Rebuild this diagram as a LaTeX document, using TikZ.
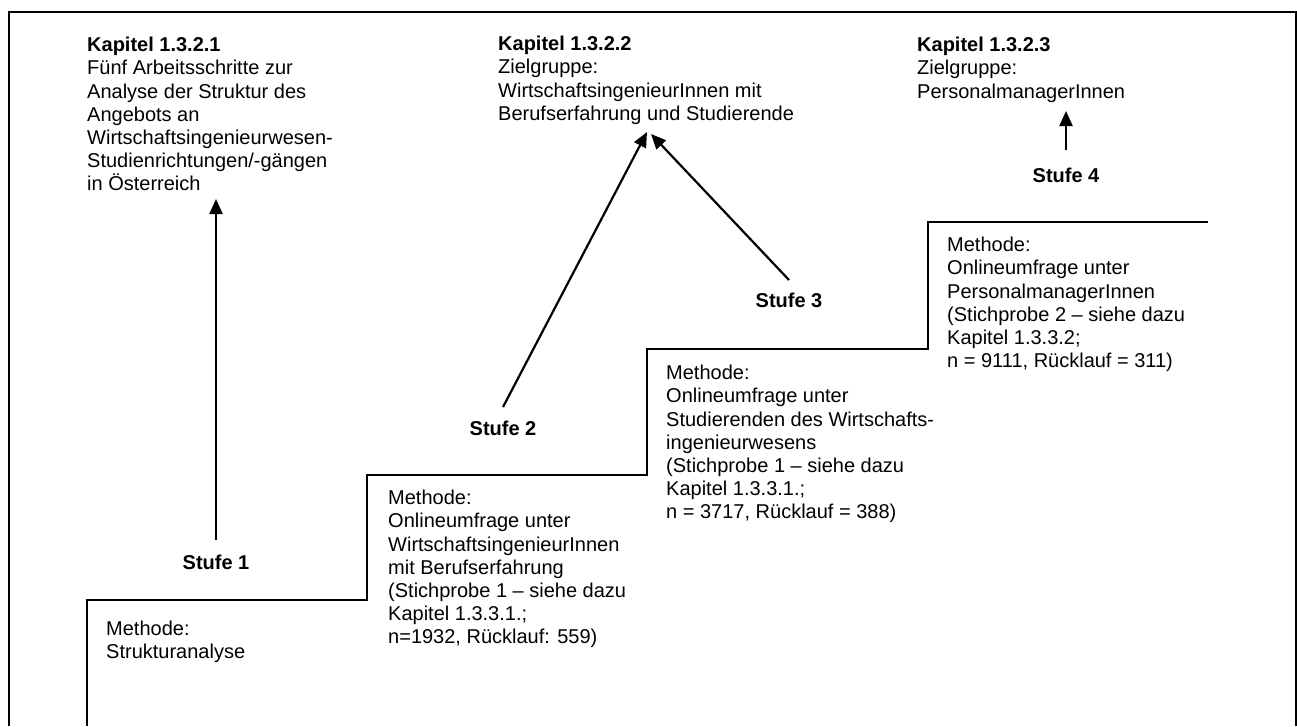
\documentclass[tikz,border=0pt]{standalone}
\usepackage{fontspec}
\setmainfont{Liberation Sans}
\usetikzlibrary{arrows.meta}
\tikzset{
  txt/.style={font=\fontsize{20}{23.2}\selectfont, align=left, inner sep=0pt, anchor=north west},
  stufe/.style={font=\fontsize{20}{23.2}\selectfont\bfseries, inner sep=0pt, anchor=center},
  frameline/.style={line width=2pt, black},
  stairline/.style={line width=2.5pt, black, line join=miter},
  arr/.style={line width=2.2pt, -{Triangle[length=15pt,width=13pt]}}
}
\begin{document}
\begin{tikzpicture}[x=1pt,y=-1pt]
\useasboundingbox (0,0) rectangle (1297,726);
% outer frame (no bottom edge)
\draw[frameline] (8.5,726) -- (8.5,11.5) -- (1295.5,11.5) -- (1295.5,726);
% stairs
\draw[stairline] (87,726) -- (87,600) -- (367,600) -- (367,475) -- (647,475) -- (647,349) -- (928,349) -- (928,222) -- (1208,222);
% chapter blocks
\node[txt] (k1) at (87,37) {\textbf{Kapitel 1.3.2.1}\\Fünf Arbeitsschritte zur\\Analyse der Struktur des\\Angebots an\\Wirtschaftsingenieurwesen-\\Studienrichtungen/-gängen\\in Österreich};
\node[txt] (k2) at (498,36) {\textbf{Kapitel 1.3.2.2}\\Zielgruppe:\\WirtschaftsingenieurInnen mit\\Berufserfahrung und Studierende};
\node[txt] (k3) at (917,37) {\textbf{Kapitel 1.3.2.3}\\Zielgruppe:\\PersonalmanagerInnen};
% method blocks
\node[txt] (m1) at (106,621) {Methode:\\Strukturanalyse};
\node[txt] (m2) at (388,490) {Methode:\\Onlineumfrage unter\\WirtschaftsingenieurInnen\\mit Berufserfahrung\\(Stichprobe 1 – siehe dazu\\Kapitel 1.3.3.1.;\\n=1932, Rücklauf: 559)};
\node[txt] (m3) at (666,365) {Methode:\\Onlineumfrage unter\\Studierenden des Wirtschafts-\\ingenieurwesens\\(Stichprobe 1 – siehe dazu\\Kapitel 1.3.3.1.;\\n = 3717, Rücklauf = 388)};
\node[txt] (m4) at (947,237) {Methode:\\Onlineumfrage unter\\PersonalmanagerInnen\\(Stichprobe 2 – siehe dazu\\Kapitel 1.3.3.2;\\n = 9111, Rücklauf = 311)};
% step labels
\node[stufe] (s1) at (216,562) {Stufe 1};
\node[stufe] (s2) at (503,428) {Stufe 2};
\node[stufe] (s3) at (789,300) {Stufe 3};
\node[stufe] (s4) at (1066,175) {Stufe 4};
% arrow ends
\coordinate (a1s) at (216,540);
\coordinate (a1e) at (216,199);
\coordinate (a2s) at (503,407);
\coordinate (a2e) at (647,132);
\coordinate (a3s) at (789,280);
\coordinate (a3e) at (651,134);
\coordinate (a4s) at (1066,150);
\coordinate (a4e) at (1066,111);
\draw[arr] (a1s) -- (a1e);
\draw[arr] (a2s) -- (a2e);
\draw[arr] (a3s) -- (a3e);
\draw[arr] (a4s) -- (a4e);
\end{tikzpicture}
\end{document}
